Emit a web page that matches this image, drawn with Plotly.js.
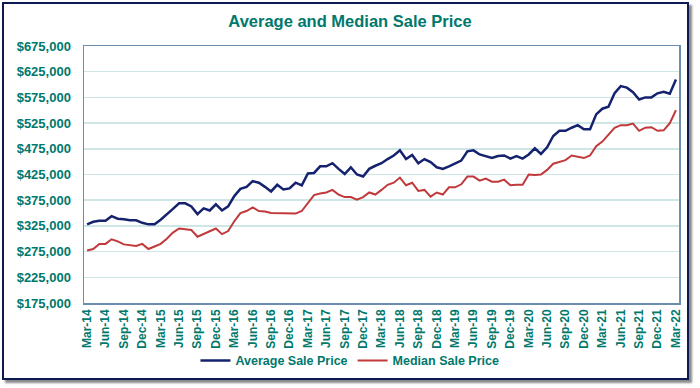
<!DOCTYPE html>
<html>
<head>
<meta charset="utf-8">
<script src="https://cdn.plot.ly/plotly-3.0.1.min.js"></script>
<style>
  html, body { margin: 0; padding: 0; background: #ffffff; }
  #frame { position: absolute; left: 2px; top: 2px; width: 683px; height: 374px;
           border: 2px solid #0d1a52; box-shadow: 3px 3px 2px #8a8a8a; background: #fff; }
  #chart { position: absolute; left: 0; top: 0; width: 700px; height: 388px; }
</style>
</head>
<body>
<div id="frame"></div>
<div id="chart"></div>
<script>
// Month categories (monthly, Mar-14 .. Mar-22)
const monthNames = ["Jan","Feb","Mar","Apr","May","Jun","Jul","Aug","Sep","Oct","Nov","Dec"];
const categories = [];
for (let y = 2014; y <= 2022; y++) {
  for (let m = 0; m < 12; m++) {
    if (y === 2014 && m < 2) continue;
    if (y === 2022 && m > 2) break;
    categories.push(monthNames[m] + "-" + String(y).slice(2));
  }
}
// Tick labels shown (quarterly)
const tickLabels = ["Mar-14","Jun-14","Sep-14","Dec-14","Mar-15","Jun-15","Sep-15","Dec-15",
  "Mar-16","Jun-16","Sep-16","Dec-16","Mar-17","Jun-17","Sep-17","Dec-17",
  "Mar-18","Jun-18","Sep-18","Dec-18","Mar-19","Jun-19","Sep-19","Dec-19",
  "Mar-20","Jun-20","Sep-20","Dec-20","Mar-21","Jun-21","Sep-21","Dec-21","Mar-22"];

const averageSalePrice = [
  328000,333000,335000,335000,344000,339000,338000,336000,336000,331000,328000,328000,
  337000,347000,358000,369000,369000,363000,348000,359000,355000,367000,355000,363000,
  383000,397000,401000,412000,409000,401000,392000,405000,396000,398000,409000,404000,
  427000,428000,441000,441000,447000,436000,426000,439000,425000,421000,436000,442000,
  447000,455000,462000,472000,455000,463000,447000,455000,449000,439000,436000,441000,
  447000,452000,470000,472000,464000,461000,457000,461000,462000,456000,461000,456000,
  464000,476000,465000,478000,500000,510000,510000,516000,521000,513000,513000,542000,
  553000,557000,583000,597000,594000,585000,571000,575000,575000,583000,586000,582000,610000
];
const medianSalePrice = [
  277000,280000,290000,290000,299000,295000,289000,288000,286000,290000,280000,285000,
  290000,300000,312000,320000,318000,317000,304000,309000,315000,320000,309000,315000,
  334000,350000,354000,361000,354000,353000,350000,350000,349000,350000,349000,354000,
  369000,385000,388000,390000,395000,386000,381000,381000,376000,381000,390000,386000,
  395000,405000,409000,419000,404000,409000,393000,395000,382000,390000,386000,400000,
  400000,406000,421000,421000,413000,417000,411000,411000,415000,404000,405000,405000,
  425000,424000,425000,434000,446000,450000,453000,462000,459000,457000,462000,480000,
  489000,502000,516000,521000,521000,524000,510000,516000,517000,510000,511000,525000,550000
];
const yTicks = [175000,225000,275000,325000,375000,425000,475000,525000,575000,625000,675000];

const teal = "#00786c";
const font = "Arial, 'Liberation Sans', sans-serif";

const traces = [
  { x: categories, y: averageSalePrice, type: "scatter", mode: "lines", name: "<b>Average Sale Price</b>",
    line: { color: "#15226e", width: 2.5 } },
  { x: categories, y: medianSalePrice, type: "scatter", mode: "lines", name: "<b>Median Sale Price</b>",
    line: { color: "#c1393a", width: 2 } }
];

const layout = {
  width: 700, height: 388,
  paper_bgcolor: "rgba(0,0,0,0)", plot_bgcolor: "#ffffff",
  margin: { l: 84, r: 21, t: 46, b: 80 },
  font: { family: font, color: teal },
  title: { text: "<b>Average and Median Sale Price</b>", font: { family: font, size: 16.5, color: teal },
           x: 0.5, xanchor: "center", xref: "container", y: 0.945, yanchor: "middle" },
  xaxis: {
    type: "category", categoryorder: "array", categoryarray: categories,
    range: [-0.5, categories.length - 0.5],
    tickmode: "array", tickvals: tickLabels, ticktext: tickLabels.map(t => "<b>" + t + "</b>"),
    tickangle: -90, tickfont: { family: font, size: 12, color: teal },
    showgrid: false, zeroline: false, ticks: "",
    showline: true, linecolor: "#6a8db0", linewidth: 1.5, mirror: true
  },
  yaxis: {
    range: [175000, 675000], tickmode: "array", tickvals: yTicks,
    ticktext: yTicks.map(v => "<b>$" + v.toLocaleString("en-US") + "</b>"),
    tickfont: { family: font, size: 13, color: teal },
    showgrid: true, gridcolor: "#cfe6e7", gridwidth: 1.5, zeroline: false,
    ticks: "", ticklabelstandoff: 9,
    showline: true, linecolor: "#6a8db0", linewidth: 1.5, mirror: true
  },
  showlegend: true,
  legend: { orientation: "h", x: 0.447, xanchor: "center", y: -0.225, yanchor: "middle",
            font: { family: font, size: 12.5, color: teal }, bgcolor: "rgba(0,0,0,0)",
            itemwidth: 30, tracegroupgap: 0 }
};
Plotly.newPlot("chart", traces, layout, { displayModeBar: false, staticPlot: true });
</script>
</body>
</html>
